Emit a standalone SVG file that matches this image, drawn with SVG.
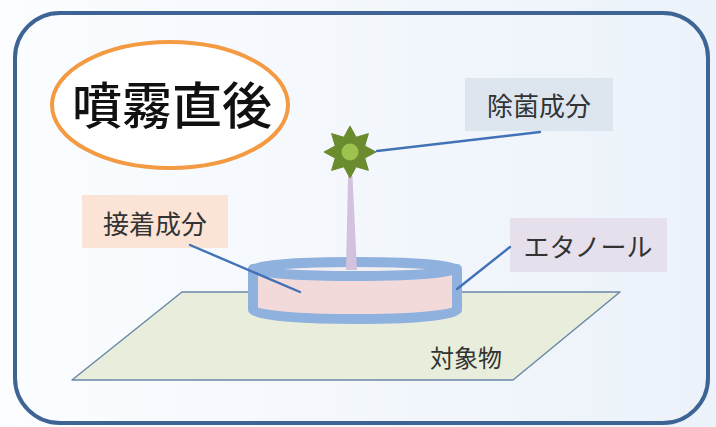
<svg xmlns="http://www.w3.org/2000/svg" width="716" height="427" viewBox="0 0 716 427">
  <defs>
    <linearGradient id="bg" x1="0" y1="0" x2="1" y2="0">
      <stop offset="0" stop-color="#fbfdff"/>
      <stop offset="1" stop-color="#ecf2fa"/>
    </linearGradient>
    <style>
      .label-text { font-family: "Noto Sans CJK JP", "Noto Sans", sans-serif; font-size: 26px; fill: #333333; text-anchor: middle; dominant-baseline: central; }
      .connector { stroke: #4272b6; stroke-width: 2.4; fill: none; stroke-linecap: round; }
      .rim { stroke: #8fb1de; stroke-width: 10; stroke-linejoin: round; }
    </style>
  </defs>

  <!-- backdrop and frame -->
  <rect x="0" y="0" width="716" height="427" fill="url(#bg)"/>
  <rect id="frame" x="15" y="13" width="693" height="410" rx="45" ry="45" fill="none" stroke="#3d6494" stroke-width="4"/>

  <!-- title -->
  <g id="title">
    <ellipse cx="170" cy="105" rx="118" ry="63" fill="#ffffff" stroke="#f39a43" stroke-width="4"/>
    <text x="172" y="102" font-family="Noto Sans CJK JP, Noto Sans, sans-serif" font-size="50" font-weight="500" fill="#111111" text-anchor="middle" dominant-baseline="central">噴霧直後</text>
  </g>

  <!-- surface -->
  <g id="target">
    <polygon points="182,292 620,292 513,380 72,380" fill="#e8eedb" stroke="#6a88a6" stroke-width="1.5" stroke-linejoin="round"/>
    <text x="466" y="356" class="label-text" style="font-size:24px">対象物</text>
  </g>

  <!-- dish -->
  <g id="dish">
    <path class="rim" d="M253,269 V310 A102,9 0 0 0 457,310 V269 Z" fill="#f3dada"/>
    <ellipse class="rim" cx="355" cy="269" rx="102" ry="7" fill="#f5eef1" stroke-width="8.5"/>
  </g>

  <!-- rising particle -->
  <g id="particle">
    <polygon points="348,176 352.5,176 357,270 346,270" fill="#d3c2de"/>
    <polygon fill="#6b8b2f" stroke="#6b8b2f" stroke-width="1" stroke-linejoin="round" points="350,126 356.12,137.22 368.38,133.62 364.78,145.88 376,152 364.78,158.12 368.38,170.38 356.12,166.78 350,178 343.88,166.78 331.62,170.38 335.22,158.12 324,152 335.22,145.88 331.62,133.62 343.88,137.22"/>
    <circle cx="350" cy="152" r="8.5" fill="#9ec24f"/>
  </g>

  <!-- callouts -->
  <g id="label-germicide">
    <rect x="465" y="78" width="148" height="53" fill="#dde5ef"/>
    <text x="539" y="104" class="label-text">除菌成分</text>
  </g>
  <g id="label-adhesive">
    <rect x="82" y="195" width="146" height="53" fill="#fbe4d5"/>
    <text x="155" y="222" class="label-text">接着成分</text>
  </g>
  <g id="label-ethanol">
    <rect x="510" y="218" width="157" height="54" fill="#e5e0eb"/>
    <text x="588" y="245" class="label-text">エタノール</text>
  </g>

  <!-- leader lines -->
  <g id="connectors">
    <line class="connector" x1="377" y1="151" x2="540" y2="132"/>
    <line class="connector" x1="190" y1="245" x2="300" y2="292"/>
    <line class="connector" x1="510" y1="247" x2="457" y2="289"/>
  </g>
</svg>
